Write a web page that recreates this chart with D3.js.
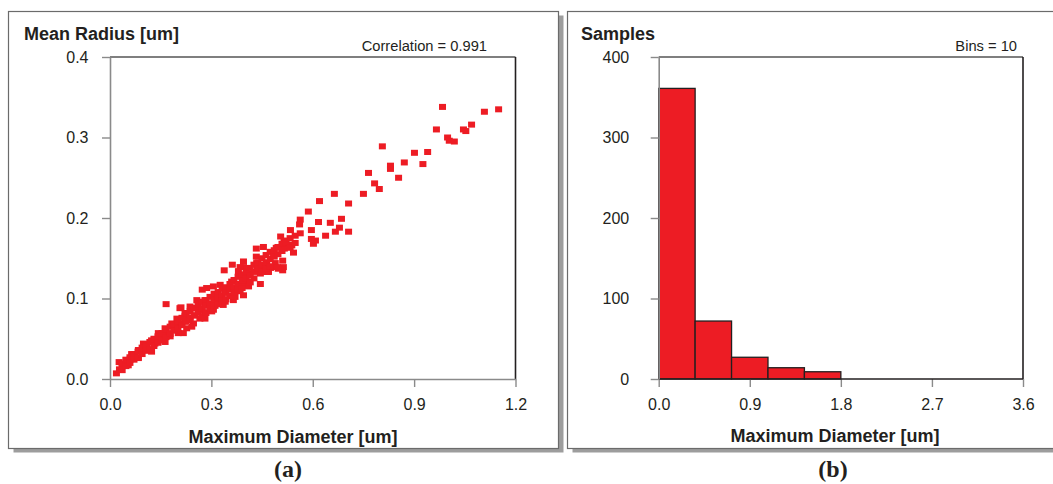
<!DOCTYPE html>
<html><head><meta charset="utf-8">
<script src="https://cdn.jsdelivr.net/npm/d3@7"></script>
<style>
body{margin:0;background:#fff;}
svg{display:block;font-family:"Liberation Sans",Arial,sans-serif;}
</style></head>
<body><svg id="c" width="1053" height="484"></svg>
<script>
// ---- data ----
const scatterX = [0.984,1.150,1.108,1.070,0.966,1.046,1.053,0.999,1.004,1.019,0.806,0.901,0.940,0.871,0.926,0.830,0.830,0.765,0.854,0.783,0.797,0.664,0.750,0.620,0.706,0.587,0.563,0.561,0.617,0.652,0.685,0.534,0.596,0.679,0.667,0.706,0.638,0.596,0.608,0.602,0.505,0.515,0.533,0.525,0.516,0.543,0.511,0.513,0.511,0.454,0.433,0.492,0.484,0.433,0.489,0.464,0.436,0.451,0.475,0.495,0.436,0.466,0.445,0.395,0.395,0.410,0.395,0.410,0.395,0.410,0.445,0.517,0.538,0.362,0.338,0.385,0.380,0.434,0.498,0.469,0.405,0.360,0.326,0.306,0.286,0.273,0.395,0.365,0.335,0.306,0.266,0.247,0.227,0.217,0.257,0.237,0.207,0.281,0.311,0.341,0.370,0.296,0.326,0.355,0.385,0.266,0.252,0.281,0.311,0.341,0.370,0.237,0.222,0.207,0.192,0.222,0.252,0.166,0.210,0.019,0.028,0.027,0.044,0.064,0.084,0.099,0.123,0.143,0.163,0.183,0.198,0.222,0.242,0.261,0.054,0.084,0.123,0.163,0.202,0.242,0.281,0.301,0.074,0.104,0.133,0.153,0.173,0.192,0.212,0.232,0.272,0.281,0.036,0.059,0.110,0.142,0.178,
  0.036,0.036,0.047,0.047,0.059,0.059,0.071,0.071,0.083,0.083,0.095,0.095,0.107,0.107,0.118,0.118,0.130,0.130,0.142,0.142,0.154,0.154,0.166,0.166,0.178,0.178,0.189,0.189,0.201,0.201,0.213,0.213,0.225,0.225,0.237,0.237,0.249,0.249,0.261,0.261,
  0.272,0.272,0.272,0.284,0.284,0.284,0.296,0.296,0.296,0.308,0.308,0.308,0.320,0.320,0.320,0.332,0.332,0.332,0.343,0.343,0.343,0.355,0.355,0.355,0.367,0.367,0.367,0.379,0.379,0.379,0.391,0.391,0.391,
  0.403,0.403,0.415,0.415,0.415,0.426,0.426,0.426,0.438,0.438,0.450,0.450,0.450,0.462,0.462,0.462,0.474,0.474,0.474,
  0.486,0.486,0.497,0.497,0.509,0.509,0.521,0.533,0.533,0.548,0.548,0.563];
const scatterY = [0.338,0.335,0.332,0.316,0.310,0.310,0.308,0.300,0.296,0.295,0.289,0.281,0.282,0.269,0.267,0.265,0.261,0.256,0.250,0.243,0.236,0.230,0.230,0.221,0.218,0.208,0.198,0.192,0.195,0.194,0.199,0.185,0.185,0.188,0.183,0.183,0.178,0.174,0.172,0.168,0.177,0.172,0.167,0.166,0.162,0.157,0.147,0.139,0.135,0.164,0.162,0.163,0.153,0.152,0.144,0.143,0.142,0.139,0.138,0.139,0.137,0.133,0.131,0.146,0.139,0.131,0.125,0.121,0.117,0.115,0.118,0.170,0.166,0.142,0.135,0.139,0.134,0.144,0.137,0.133,0.131,0.121,0.117,0.115,0.113,0.111,0.104,0.098,0.092,0.086,0.075,0.069,0.063,0.057,0.098,0.090,0.088,0.098,0.103,0.108,0.113,0.092,0.098,0.103,0.109,0.086,0.079,0.083,0.091,0.096,0.102,0.076,0.071,0.067,0.061,0.078,0.088,0.093,0.089,0.007,0.012,0.021,0.019,0.031,0.036,0.044,0.048,0.057,0.063,0.069,0.075,0.082,0.088,0.094,0.017,0.026,0.034,0.046,0.057,0.065,0.075,0.084,0.028,0.036,0.044,0.051,0.057,0.063,0.069,0.073,0.086,0.092,0.016,0.024,0.041,0.048,0.053,
  0.019,0.011,0.024,0.016,0.027,0.020,0.031,0.024,0.034,0.027,0.039,0.031,0.042,0.035,0.046,0.037,0.050,0.041,0.053,0.045,0.057,0.048,0.061,0.052,0.065,0.056,0.068,0.060,0.072,0.063,0.076,0.067,0.081,0.072,0.084,0.076,0.088,0.079,0.092,0.083,
  0.096,0.087,0.078,0.098,0.091,0.082,0.102,0.094,0.087,0.106,0.098,0.091,0.108,0.101,0.093,0.112,0.104,0.097,0.114,0.107,0.099,0.118,0.111,0.103,0.123,0.114,0.107,0.127,0.118,0.111,0.130,0.122,0.113,
  0.133,0.125,0.138,0.129,0.120,0.142,0.133,0.125,0.145,0.137,0.150,0.142,0.133,0.154,0.145,0.137,0.158,0.149,0.140,
  0.160,0.152,0.164,0.155,0.168,0.159,0.170,0.175,0.163,0.178,0.169,0.181];
const scatterXTicks = [0.0,0.3,0.6,0.9,1.2];
const scatterYTicks = [0.0,0.1,0.2,0.3,0.4];
const binEdges = [0,0.36,0.72,1.08,1.44,1.8,2.16,2.52,2.88,3.24,3.6];
const binCounts = [361,72,27,14,9,0,0,0,0,0];
const histXTicks = [0.0,0.9,1.8,2.7,3.6];
const histYTicks = [0,100,200,300,400];
const scatterTitle = "Mean Radius [um]";
const histTitle = "Samples";
const xTitle = "Maximum Diameter [um]";
const corrText = "Correlation = 0.991";
const binsText = "Bins = 10";
const captions = ["(a)","(b)"];

// ---- drawing ----
const svg = d3.select("#c");
const RED = "#ED1C24", TXT = "#231F20", GRAY = "#8a8a8a", DARK = "#231F20";

function panel(x, y, w, h){
  svg.append("rect").attr("x",x+5).attr("y",y+4).attr("width",w).attr("height",h).attr("fill","#9d9d9d");
  svg.append("rect").attr("x",x).attr("y",y).attr("width",w).attr("height",h)
    .attr("fill","#fff").attr("stroke","#6b6b6b").attr("stroke-width",1.2);
}
panel(8.5, 11.5, 550, 437);
panel(567.5, 11.5, 560, 437);

function frame(g, x0, x1, y0, y1){
  g.append("line").attr("x1",x0).attr("x2",x1).attr("y1",y0).attr("y2",y0).attr("stroke","#555").attr("stroke-width",1.6);
  g.append("line").attr("x1",x1).attr("x2",x1).attr("y1",y0).attr("y2",y1).attr("stroke",DARK).attr("stroke-width",1.6);
}
function styleAxis(sel){
  sel.select(".domain").attr("stroke",GRAY).attr("stroke-width",1.6);
  sel.selectAll(".tick line").attr("stroke",GRAY).attr("stroke-width",1.4);
  sel.selectAll(".tick text").attr("fill",TXT).style("font-size","16px").style("font-family","'Liberation Sans',Arial,sans-serif");
}

// Scatter panel
{
  const L=110, R=515.5, T=57, B=379;
  const x = d3.scaleLinear().domain([0,1.2]).range([L,R]);
  const y = d3.scaleLinear().domain([0,0.4]).range([B,T]);
  const g = svg.append("g");
  frame(g, L, R, T, B);
  const ax = g.append("g").attr("transform",`translate(0,${B})`)
    .call(d3.axisBottom(x).tickValues(scatterXTicks).tickFormat(d3.format(".1f")).tickSize(8).tickPadding(12).tickSizeOuter(0));
  styleAxis(ax);
  const ay = g.append("g").attr("transform",`translate(${L},0)`)
    .call(d3.axisLeft(y).tickValues(scatterYTicks).tickFormat(d3.format(".1f")).tickSize(8).tickPadding(13.5).tickSizeOuter(0));
  styleAxis(ay);
  ay.selectAll(".tick text").attr("dy","0.34em");
  const n = Math.min(scatterX.length, scatterY.length);
  const pts = d3.range(n).map(i=>({x:scatterX[i],y:scatterY[i]}));
  g.selectAll("rect.pt").data(pts).enter().append("rect").attr("class","pt")
    .attr("x",d=>x(d.x)-3.5).attr("y",d=>y(d.y)-3).attr("width",7).attr("height",6).attr("fill",RED);
  g.append("text").attr("x",24).attr("y",40).attr("font-weight","bold").attr("font-size",18).attr("fill",TXT).text(scatterTitle);
  g.append("text").attr("x",487).attr("y",51).attr("text-anchor","end").attr("font-size",14.7).attr("fill",TXT).text(corrText);
  g.append("text").attr("x",293).attr("y",443).attr("text-anchor","middle").attr("font-weight","bold").attr("font-size",18).attr("fill",TXT).text(xTitle);
  svg.append("text").attr("x",288).attr("y",477).attr("text-anchor","middle").attr("font-weight","bold").attr("font-size",24)
    .attr("font-family","'Liberation Serif','Times New Roman',serif").attr("fill",TXT).text(captions[0]);
}

// Histogram panel
{
  const L=658.7, R=1023, T=57, B=379;
  const x = d3.scaleLinear().domain([0,3.6]).range([L,R]);
  const y = d3.scaleLinear().domain([0,400]).range([B,T]);
  const g = svg.append("g");
  frame(g, L, R, T, B);
  const bins = binCounts.map((c,i)=>({x0:binEdges[i],x1:binEdges[i+1],c}));
  g.selectAll("rect.bar").data(bins).enter().append("rect").attr("class","bar")
    .attr("x",d=>x(d.x0)).attr("y",d=>y(d.c)).attr("width",d=>x(d.x1)-x(d.x0)).attr("height",d=>y(0)-y(d.c))
    .attr("fill",RED).attr("stroke",DARK).attr("stroke-width",1.3);
  const ax = g.append("g").attr("transform",`translate(0,${B})`)
    .call(d3.axisBottom(x).tickValues(histXTicks).tickFormat(d3.format(".1f")).tickSize(8).tickPadding(12).tickSizeOuter(0));
  styleAxis(ax);
  ax.select(".domain").remove();
  g.append("line").attr("x1",L).attr("x2",R).attr("y1",B).attr("y2",B).attr("stroke",DARK).attr("stroke-width",1.6);
  const ay = g.append("g").attr("transform",`translate(${L},0)`)
    .call(d3.axisLeft(y).tickValues(histYTicks).tickFormat(d3.format("d")).tickSize(8).tickPadding(21.5).tickSizeOuter(0));
  styleAxis(ay);
  ay.selectAll(".tick text").attr("dy","0.34em");
  g.append("text").attr("x",581).attr("y",40).attr("font-weight","bold").attr("font-size",18).attr("fill",TXT).text(histTitle);
  g.append("text").attr("x",1017).attr("y",51).attr("text-anchor","end").attr("font-size",14.7).attr("fill",TXT).text(binsText);
  g.append("text").attr("x",835).attr("y",442).attr("text-anchor","middle").attr("font-weight","bold").attr("font-size",18).attr("fill",TXT).text(xTitle);
  svg.append("text").attr("x",833).attr("y",477).attr("text-anchor","middle").attr("font-weight","bold").attr("font-size",24)
    .attr("font-family","'Liberation Serif','Times New Roman',serif").attr("fill",TXT).text(captions[1]);
}
</script></body></html>
